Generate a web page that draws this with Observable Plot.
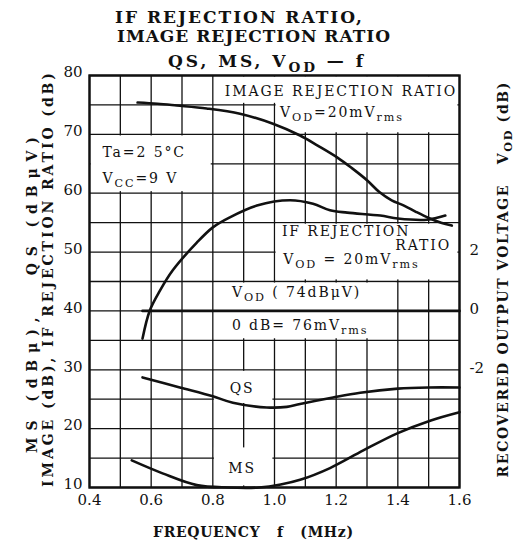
<!DOCTYPE html>
<html><head><meta charset="utf-8">
<script src="https://cdn.jsdelivr.net/npm/d3@7"></script>
<script src="https://cdn.jsdelivr.net/npm/@observablehq/plot@0.6"></script>
<style>body{margin:0;background:#fff}</style>
</head><body><div id="chart"></div>
<script>
// ---- data (frequency in MHz, level in dB) ----
const imgF  = [0.556, 0.62, 0.683, 0.78, 0.888, 0.995, 1.083, 1.14, 1.203, 1.25, 1.30, 1.34, 1.38, 1.42, 1.46, 1.50, 1.54, 1.575];
const imgDb = [75.4, 75.2, 74.9, 74.4, 73.5, 71.8, 69.8, 68.1, 66.1, 64.3, 62.2, 60.2, 58.8, 57.9, 56.8, 55.8, 55.0, 54.5];
const ifF   = [0.572, 0.595, 0.628, 0.67, 0.748, 0.80, 0.855, 0.943, 1.05, 1.125, 1.18, 1.236, 1.343, 1.40, 1.495, 1.554];
const ifDb  = [35.3, 40.0, 43.4, 46.9, 51.6, 54.2, 55.9, 57.9, 58.8, 58.2, 57.1, 56.7, 56.2, 55.7, 55.5, 56.2];
const qsF   = [0.572, 0.693, 0.80, 0.865, 0.975, 1.04, 1.083, 1.19, 1.278, 1.40, 1.50, 1.60];
const qsDb  = [28.7, 27.0, 25.5, 24.4, 23.6, 23.7, 24.2, 25.3, 26.1, 26.8, 27.0, 27.0];
const msF   = [0.537, 0.637, 0.748, 0.85, 0.95, 1.02, 1.083, 1.18, 1.288, 1.398, 1.507, 1.60];
const msDb  = [14.6, 12.4, 10.4, 10.0, 10.0, 10.5, 11.3, 13.3, 16.3, 19.2, 21.4, 22.8];
const vodF  = [0.572, 1.6];
const vodDb = [40, 40];          // VOD = 0 dB (74 dBμV)

const xTicks   = [0.4, 0.6, 0.8, 1.0, 1.2, 1.4, 1.6];
const yTicks   = [10, 20, 30, 40, 50, 60, 70, 80];
const vodTicks = [2, 0, -2];     // right axis, dB
const xGrid = d3.range(4, 17).map(d => d / 10);
const yGrid = d3.range(10, 81, 5);

// label boxes (blank areas of the grid) in MHz / dB
const boxX1 = [0.8, 1.0, 0.4, 1.0, 0.8, 0.8, 0.8];
const boxX2 = [1.6, 1.6, 0.8, 1.6, 1.4, 1.0, 1.0];
const boxY1 = [75, 70, 60, 45, 35, 24, 10];
const boxY2 = [80, 80, 70, 55, 45, 30, 17];

const noteText = ["IMAGE REJECTION RATIO", "V_{OD}=20mV_{rms}", "Ta=2 5°C", "V_{CC}=9 V",
  "IF REJECTION", "RATIO", "V_{OD} = 20mV_{rms}", "V_{OD} ( 74dBμV)", "0 dB= 76mV_{rms}"];
const noteF  = [0.839, 1.018, 0.442, 0.442, 1.024, 1.392, 1.028, 0.862, 0.862];
const noteDb = [76.6, 72.9, 66.1, 61.7, 52.8, 50.3, 47.9, 42.3, 36.7];
const curveLabels = ["QS", "MS"];
const curveLabelF = [0.895, 0.895];
const curveLabelDb = [26.0, 12.4];

const series = (f, v) => f.map((x, i) => ({f: x, v: v[i]}));
const boxes = boxX1.map((d, i) => ({x1: d, x2: boxX2[i], y1: boxY1[i], y2: boxY2[i]}));
const notes = noteText.map((t, i) => ({t, f: noteF[i], v: noteDb[i]}));
const clabels = curveLabels.map((t, i) => ({t, f: curveLabelF[i], v: curveLabelDb[i]}));

const ink = "#111";
const lineOpts = {x: "f", y: "v", curve: "catmull-rom", stroke: ink, strokeWidth: 2.6};

const svg = Plot.plot({
  width: 516, height: 542,
  marginLeft: 89, marginRight: 57, marginTop: 75, marginBottom: 55,
  x: {domain: [0.4, 1.6]},
  y: {domain: [10, 80]},
  style: {fontFamily: "'DejaVu Serif', serif", fontSize: "14px", background: "white", color: ink},
  marks: [
    Plot.ruleX(xGrid, {stroke: ink, strokeWidth: 1.3}),
    Plot.ruleY(yGrid, {stroke: ink, strokeWidth: 1.3}),
    Plot.rect(boxes, {x1: "x1", x2: "x2", y1: "y1", y2: "y2", fill: "white", inset: 1.6}),
    Plot.frame({stroke: ink, strokeWidth: 2.4}),
    Plot.axisX({ticks: xTicks, tickSize: 0, tickPadding: 7, tickFormat: d => d.toFixed(1), label: null, fontSize: 15}),
    Plot.axisY({ticks: yTicks, tickSize: 0, tickPadding: 7, dy: -3, label: null, fontSize: 15}),
    Plot.axisY({anchor: "right", ticks: vodTicks.map(v => 40 + 5 * v), tickFormat: d => String((d - 40) / 5),
      tickSize: 0, tickPadding: 10, dy: -2, label: null, fontSize: 15}),
    Plot.line(series(vodF, vodDb), {...lineOpts, curve: "linear", strokeWidth: 2.8}),
    Plot.line(series(imgF, imgDb), lineOpts),
    Plot.line(series(ifF, ifDb), lineOpts),
    Plot.line(series(qsF, qsDb), lineOpts),
    Plot.line(series(msF, msDb), lineOpts),
    Plot.text(notes, {x: "f", y: "v", text: "t", textAnchor: "start", lineAnchor: "bottom", fontSize: 14, fill: ink}),
    Plot.text(clabels, {x: "f", y: "v", text: "t", textAnchor: "middle", lineAnchor: "bottom", fontSize: 14, fill: ink})
  ]
});
document.getElementById("chart").appendChild(svg);

// wider, typewriter-like spacing for the in-plot notes
svg.querySelectorAll('g[aria-label="text"] text').forEach(t => { t.style.letterSpacing = "1.9px"; });

const NS = "http://www.w3.org/2000/svg";
function applySubs(el) {
  const s = el.textContent;
  if (!s.includes("_{")) return;
  const fs = parseFloat(getComputedStyle(el).fontSize) || 14;
  const shift = Math.round(fs * 0.28);
  el.textContent = "";
  let shifted = false;
  for (const p of s.split(/(_\{[^}]*\})/).filter(p => p)) {
    const ts = document.createElementNS(NS, "tspan");
    if (p.startsWith("_{")) {
      ts.textContent = p.slice(2, -1);
      ts.setAttribute("dy", shift);
      ts.setAttribute("font-size", (fs * 0.8).toFixed(1));
      shifted = true;
    } else {
      ts.textContent = p;
      if (shifted) { ts.setAttribute("dy", -shift); shifted = false; }
    }
    el.appendChild(ts);
  }
}

const root = d3.select(svg);
function addText(str, x, y, size, len, rotate, weight) {
  const t = root.append("text")
    .attr("font-family", "'DejaVu Serif', serif")
    .attr("font-size", size)
    .attr("font-weight", weight || "normal")
    .attr("fill", ink)
    .style("white-space", "pre")
    .text(str);
  if (rotate) {
    t.attr("transform", `translate(${x},${y}) rotate(-90)`).attr("text-anchor", "middle");
  } else {
    t.attr("x", x).attr("y", y).attr("text-anchor", "start");
  }
  if (len) t.attr("textLength", len).attr("lengthAdjust", "spacing");
  return t;
}
addText("IF REJECTION RATIO,", 115, 23, 17, 247, false, "bold");
addText("IMAGE REJECTION RATIO", 117, 42, 17, 273, false, "bold");
addText("QS, MS, V_{OD} — f", 168, 67, 17, 195, false, "bold");
addText("MS (dBμ),   QS (dBμV)", 37, 295, 14, 316, true, "bold");
addText("IMAGE (dB), IF REJECTION RATIO (dB)", 53, 280, 14, 414, true, "bold");
addText("RECOVERED OUTPUT VOLTAGE   V_{OD} (dB)", 508, 280, 14, 395, true, "bold");
addText("FREQUENCY   f   (MHz)", 153, 537, 14, 200, false, "bold");

svg.querySelectorAll("text").forEach(applySubs);
</script>
</body></html>
